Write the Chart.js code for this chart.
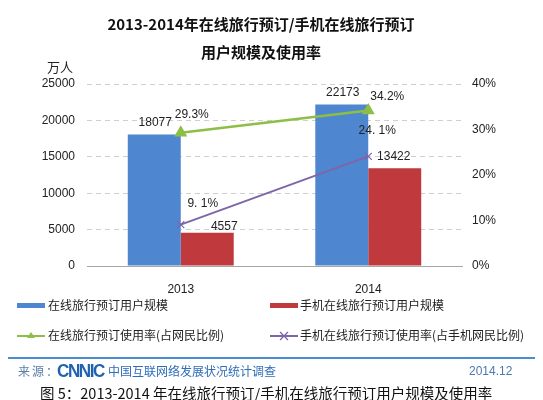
<!DOCTYPE html>
<html><head><meta charset="utf-8">
<script src="https://cdn.jsdelivr.net/npm/chart.js@4/dist/chart.umd.min.js"></script>
<style>
body{margin:0;width:543px;height:400px;overflow:hidden;background:#fff;position:relative;font-family:"Noto Sans CJK SC","Liberation Sans",sans-serif;}
#c{position:absolute;left:0;top:0;}
.abs{position:absolute;white-space:nowrap;line-height:1;}
.title{left:0;width:522px;text-align:center;font-weight:bold;font-size:15px;color:#111;}
.lg{font-size:12px;color:#222;}
.mk{position:absolute;height:5px;width:28px;}
</style></head><body>
<canvas id="c" width="543" height="400"></canvas>
<div class="abs title" style="top:16px">2013-2014年在线旅行预订/手机在线旅行预订</div>
<div class="abs title" style="top:44px">用户规模及使用率</div>
<div class="abs" style="left:47px;top:60px;font-size:13px;color:#222;">万人</div>

<div class="mk" style="left:17px;top:303px;background:#4E86CF"></div>
<div class="abs lg" style="left:48px;top:299px">在线旅行预订用户规模</div>
<div class="mk" style="left:270px;top:303px;background:#C0393C"></div>
<div class="abs lg" style="left:300px;top:299px">手机在线旅行预订用户规模</div>

<svg class="abs" style="left:15px;top:330px" width="32" height="12"><line x1="2" y1="6" x2="30" y2="6" stroke="#8DBE46" stroke-width="2"/><polygon points="16,2 20,8 12,8" fill="#8DBE46"/></svg>
<div class="abs lg" style="left:48px;top:329px">在线旅行预订使用率(占网民比例)</div>
<svg class="abs" style="left:268px;top:330px" width="32" height="12"><line x1="2" y1="6" x2="30" y2="6" stroke="#8064A8" stroke-width="2"/><line x1="12" y1="2" x2="20" y2="10" stroke="#8064A8" stroke-width="1.2"/><line x1="20" y1="2" x2="12" y2="10" stroke="#8064A8" stroke-width="1.2"/></svg>
<div class="abs lg" style="left:300px;top:329px">手机在线旅行预订使用率(占手机网民比例)</div>

<div class="abs" style="left:8px;top:357px;width:527px;height:2px;background:#4A8DD0"></div>
<div class="abs" style="left:18px;top:365px;font-size:12px;color:#5B7FA6;letter-spacing:2px">来源：</div>
<div class="abs" style="left:57px;top:362px;font-size:18px;font-weight:bold;font-family:'Liberation Sans',sans-serif;color:#1F62B0;letter-spacing:-1.5px;transform:scaleX(0.95);transform-origin:left top">CNNIC</div>
<div class="abs" style="left:108px;top:365px;font-size:12px;color:#2E6DB8">中国互联网络发展状况统计调查</div>
<div class="abs" style="left:469px;top:365px;font-size:12px;font-family:'Liberation Sans',sans-serif;color:#4A78B0">2014.12</div>
<div class="abs" style="left:40px;top:386px;font-size:14.5px;color:#111;">图 5：2013-2014 年在线旅行预订/手机在线旅行预订用户规模及使用率</div>

<script>
const categories = ["2013", "2014"];
const onlineUsers = [18077, 22173];
const mobileUsers = [4557, 13422];
const onlineRate = [0.293, 0.342];
const mobileRate = [0.091, 0.241];
const onlineRateLabels = ["29.3%", "34.2%"];
const mobileRateLabels = ["9. 1%", "24. 1%"];
const leftTicks = [0, 5000, 10000, 15000, 20000, 25000];
const rightTicks = ["0%", "10%", "20%", "30%", "40%"];

const labelOffsets = {
  0: [[1, -12], [1, -12]],
  1: [[17, -6], [-1, -12]],
  2: [[11, -18], [19, -14]],
  3: [[22, -21], [9, -26]]
};

const labelPlugin = {
  id: 'valueLabels',
  afterDatasetsDraw(chart) {
    const ctx = chart.ctx;
    ctx.save();
    ctx.font = '12px "Liberation Sans", Arial, sans-serif';
    ctx.fillStyle = '#222';
    ctx.textAlign = 'center';
    ctx.textBaseline = 'middle';
    chart.data.datasets.forEach((ds, di) => {
      const meta = chart.getDatasetMeta(di);
      meta.data.forEach((el, i) => {
        const off = labelOffsets[di][i];
        const txt = ds.labelTexts ? ds.labelTexts[i] : String(ds.data[i]);
        ctx.fillText(txt, el.x + off[0], el.y + off[1]);
      });
    });
    ctx.restore();
  }
};

const tickFont = {family: '"Liberation Sans", Arial, sans-serif', size: 12};

new Chart(document.getElementById('c'), {
  type: 'bar',
  data: {
    labels: categories,
    datasets: [
      {label: '在线旅行预订用户规模', data: onlineUsers, backgroundColor: '#4E86CF', yAxisID: 'y', order: 2, categoryPercentage: 0.565, barPercentage: 1},
      {label: '手机在线旅行预订用户规模', data: mobileUsers, backgroundColor: '#C0393C', yAxisID: 'y', order: 2, categoryPercentage: 0.565, barPercentage: 1},
      {type: 'line', label: '在线旅行预订使用率(占网民比例)', data: onlineRate, labelTexts: onlineRateLabels, borderColor: '#8DBE46', backgroundColor: '#8DBE46', borderWidth: 2.5, pointStyle: 'triangle', pointRadius: 5, yAxisID: 'y1', order: 1},
      {type: 'line', label: '手机在线旅行预订使用率(占手机网民比例)', data: mobileRate, labelTexts: mobileRateLabels, borderColor: '#8064A8', backgroundColor: '#8064A8', borderWidth: 2, pointStyle: 'crossRot', pointRadius: 5, pointBorderWidth: 1.2, yAxisID: 'y1', order: 1}
    ]
  },
  options: {
    responsive: false,
    animation: false,
    layout: {padding: {top: 84, bottom: 104, left: 0, right: 0}},
    plugins: {legend: {display: false}, tooltip: {enabled: false}, title: {display: false}},
    scales: {
      x: {
        offset: true,
        grid: {display: false},
        border: {display: true, color: '#A6A6A6'},
        ticks: {font: tickFont, color: '#222', padding: 8},
        afterFit: s => { s.height = 30; }
      },
      y: {
        position: 'left',
        min: 0, max: 25000,
        afterBuildTicks: s => { s.ticks = leftTicks.map(v => ({value: v})); },
        grid: {color: '#CFCFCF', drawTicks: false},
        border: {display: false, dash: [5, 4]},
        ticks: {font: tickFont, color: '#222', padding: 12, callback: v => String(v)},
        afterFit: s => { s.width = 87; }
      },
      y1: {
        position: 'right',
        min: 0, max: 0.4,
        afterBuildTicks: s => { s.ticks = rightTicks.map((t, i) => ({value: i * 0.1})); },
        grid: {display: false, drawTicks: false},
        border: {display: false},
        ticks: {font: tickFont, color: '#222', padding: 10, callback: (v, i) => rightTicks[i]},
        afterFit: s => { s.width = 81; }
      }
    }
  },
  plugins: [labelPlugin]
});
</script>
</body></html>
